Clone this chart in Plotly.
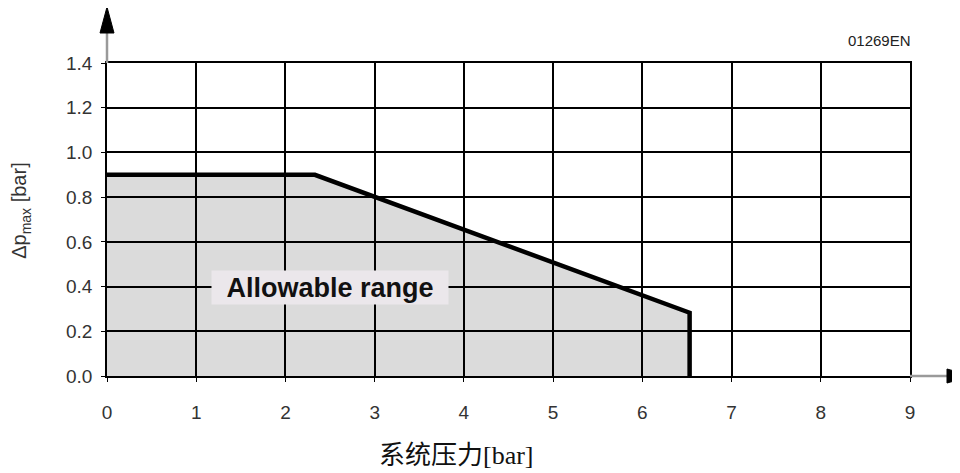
import plotly.graph_objects as go

# Data
boundary_x = [0, 2.33, 6.53, 6.53]
boundary_y = [0.9, 0.9, 0.283, 0.0]
x_ticks = [0, 1, 2, 3, 4, 5, 6, 7, 8, 9]
y_ticks = [0.0, 0.2, 0.4, 0.6, 0.8, 1.0, 1.2, 1.4]
y_tick_labels = ["0.0", "0.2", "0.4", "0.6", "0.8", "1.0", "1.2", "1.4"]
region_label = "Allowable range"
x_title = "系统压力[bar]"
y_title = "Δp<sub>max</sub> [bar]"
code_label = "01269EN"

fig = go.Figure()

# filled allowable region (semi-transparent so grid stays visible)
fig.add_trace(go.Scatter(
    x=[0] + boundary_x + [0],
    y=[0] + boundary_y + [0],
    fill="toself", fillcolor="rgba(0,0,0,0.14)",
    mode="lines", line=dict(width=0, color="rgba(0,0,0,0)"),
    hoverinfo="skip", showlegend=False,
))
# boundary line
fig.add_trace(go.Scatter(
    x=boundary_x, y=boundary_y, mode="lines",
    line=dict(color="black", width=4.5), showlegend=False,
))

axis_font = dict(family="Arial, Liberation Sans, sans-serif", size=19, color="#333333")

fig.update_xaxes(
    range=[0, 9], tickvals=x_ticks, ticktext=[str(v) for v in x_ticks],
    showgrid=True, gridcolor="black", gridwidth=1.5,
    showline=True, linecolor="black", linewidth=1.5, mirror=True,
    zeroline=False, ticks="outside", ticklen=4, tickcolor="black",
    tickfont=axis_font, ticklabelstandoff=14,
)
fig.update_yaxes(
    range=[0, 1.4], tickvals=y_ticks, ticktext=y_tick_labels,
    showgrid=True, gridcolor="black", gridwidth=1.5,
    showline=True, linecolor="black", linewidth=1.5, mirror=True,
    zeroline=False, ticks="outside", ticklen=4, tickcolor="black",
    tickfont=axis_font, ticklabelstandoff=5,
)

annotations = [
    dict(x=2.5, y=0.394, xref="x", yref="y", text="<b>" + region_label + "</b>",
         showarrow=False, bgcolor="#ebe7eb", borderpad=0, width=236, height=33,
         font=dict(family="Arial, Liberation Sans, sans-serif", size=27, color="#111111")),
    dict(x=1.004, y=1.071, xref="paper", yref="paper", text=code_label,
         showarrow=False, xanchor="right", yanchor="middle",
         font=dict(family="Arial, Liberation Sans, sans-serif", size=15, color="#222222")),
    dict(x=-0.107, y=0.528, xref="paper", yref="paper", text=y_title,
         showarrow=False, textangle=-90, xanchor="center", yanchor="middle",
         font=dict(family="Arial, Liberation Sans, sans-serif", size=20, color="#333333")),
    dict(x=0.435, y=-0.253, xref="paper", yref="paper", text=x_title,
         showarrow=False, xanchor="center", yanchor="middle",
         font=dict(family="Liberation Serif, Noto Sans CJK SC, serif", size=26, color="#111111")),
]

shapes = [
    # y axis extension (gray) and arrow head
    dict(type="path", xref="paper", yref="paper", xsizemode="pixel", ysizemode="pixel",
         xanchor=0, yanchor=1, path="M 0,0 L 0,32", line=dict(color="#9a9a9a", width=2.5)),
    dict(type="path", xref="paper", yref="paper", xsizemode="pixel", ysizemode="pixel",
         xanchor=0, yanchor=1, path="M -7,30 L 7,30 L 0,56 Z",
         fillcolor="black", line=dict(color="black", width=1)),
    # x axis extension (gray) and arrow head
    dict(type="path", xref="paper", yref="paper", xsizemode="pixel", ysizemode="pixel",
         xanchor=1, yanchor=0, path="M 0,0 L 40,0", line=dict(color="#9a9a9a", width=2.5)),
    dict(type="path", xref="paper", yref="paper", xsizemode="pixel", ysizemode="pixel",
         xanchor=1, yanchor=0, path="M 37,-7 L 37,7 L 62,0 Z",
         fillcolor="black", line=dict(color="black", width=1)),
]

fig.update_layout(
    width=952, height=465,
    margin=dict(l=99, r=50, t=55, b=97),
    plot_bgcolor="white", paper_bgcolor="white",
    annotations=annotations, shapes=shapes,
    showlegend=False,
)

fig.write_html("out.html")
